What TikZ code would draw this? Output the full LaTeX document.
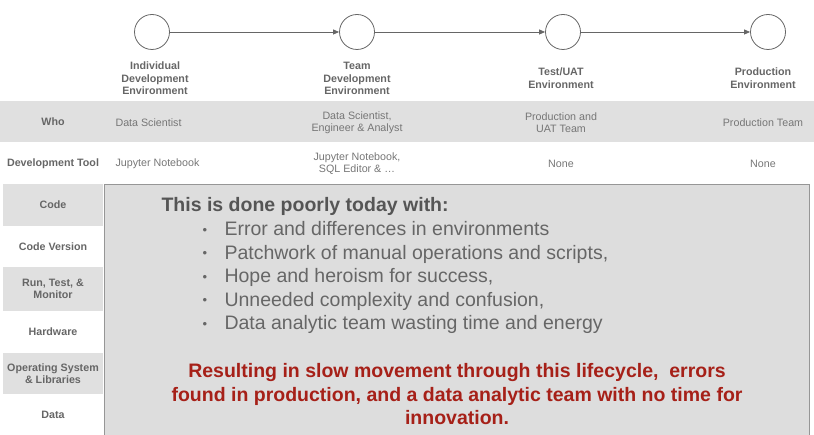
\documentclass[tikz,border=0pt]{standalone}
\usepackage{fontspec}
\setmainfont{Liberation Sans}
\usepackage{xcolor}
\usepackage{tikz}
\usetikzlibrary{positioning, arrows.meta}

\definecolor{bandgray}{RGB}{224,224,224}
\definecolor{panelgray}{RGB}{221,221,221}
\definecolor{edgegray}{RGB}{150,150,150}
\definecolor{labelgray}{RGB}{102,102,102}
\definecolor{textgray}{RGB}{118,118,118}
\definecolor{headgray}{RGB}{85,85,85}
\definecolor{berry}{RGB}{166,32,24}

\newcommand{\issuebullet}{\makebox[23pt][l]{\hspace{1pt}\raisebox{1.5pt}{\fontsize{13}{13}\selectfont•}}}

\begin{document}
\begin{tikzpicture}[
    x=1pt, y=-1pt,
    env/.style={
        circle,
        draw=labelgray,
        line width=0.8pt,
        fill=white,
        minimum size=35pt,
        inner sep=0pt
    },
    envlabel/.style={align=center, text=labelgray, font=\fontsize{10.7}{12.5}\selectfont\bfseries},
    rowcell/.style={
        align=center,
        text=labelgray,
        font=\fontsize{10.7}{12.5}\selectfont\bfseries,
        minimum width=100pt,
        minimum height=42pt,
        inner sep=0pt
    },
    cell/.style={align=center, text=textgray, font=\fontsize{10.7}{12.5}\selectfont},
    arr/.style={-{Triangle[length=6pt, width=5pt]}, draw=labelgray, line width=0.8pt},
    panel/.style={draw=edgegray, line width=0.8pt, fill=panelgray},
    issue/.style={anchor=base west, text=labelgray, font=\fontsize{19.5}{23.5}\selectfont},
    outcome/.style={align=center, text=berry, font=\fontsize{19.5}{23.5}\selectfont\bfseries}
]
\useasboundingbox (0,0) rectangle (814,435);

% bands and panel
\fill[bandgray] (0,101) rectangle (814,142);
\draw[panel] (104,184) rectangle (809,440);

% lifecycle
\node[env] (indiv) at (152,32) {};
\node[env] (team)  at (357,32) {};
\node[env] (uat)   at (563,32) {};
\node[env] (prod)  at (768,32) {};

\draw[arr] (indiv) -- (team);
\draw[arr] (team) -- (uat);
\draw[arr] (uat) -- (prod);

\node[envlabel] (indivlbl) at (155,78.5) {Individual\\Development\\Environment};
\node[envlabel] (teamlbl)  at (357,78.5) {Team\\Development\\Environment};
\node[envlabel] (uatlbl)   at (561,78)   {Test/UAT\\Environment};
\node[envlabel] (prodlbl)  at (763,78)   {Production\\Environment};

% who / tool rows
\node[rowcell] (who)  at (53,122) {Who};
\node[cell, anchor=west] (whoindiv) at (112,123)   {Data Scientist};
\node[cell] (whoteam) at (357,122.5) {Data Scientist,\\Engineer \& Analyst};
\node[cell] (whouat)  at (561,122.5) {Production and\\UAT Team};
\node[cell] (whoprod) at (763,123)   {Production Team};

\node[rowcell] (tool) at (53,164) {Development Tool};
\node[cell, anchor=west] (toolindiv) at (112,164) {Jupyter Notebook};
\node[cell] (toolteam) at (357,163.5) {Jupyter Notebook,\\SQL Editor \& …};
\node[cell] (tooluat)  at (561,164)   {None};
\node[cell] (toolprod) at (763,164)   {None};

% left column
\node[rowcell, fill=bandgray] (code)     at (53,205)   {Code};
\node[rowcell]                (version)  at (53,246.5) {Code Version};
\node[rowcell, fill=bandgray, minimum height=44pt] (run) at (53,289) {Run, Test, \&\\Monitor};
\node[rowcell]                (hardware) at (53,332)   {Hardware};
\node[rowcell, fill=bandgray, minimum height=41pt] (os) at (53,373.5) {Operating System\\\& Libraries};
\node[rowcell]                (data)     at (53,415)   {Data};

% panel text
\node[anchor=base west, text=headgray, font=\fontsize{19.5}{23.5}\selectfont\bfseries] (poorly) at (158,212) {This is done poorly today with:};
\node[issue] (issue1) at (198,236)   {\issuebullet Error and differences in environments};
\node[issue] (issue2) at (198,259.5) {\issuebullet Patchwork of manual operations and scripts,};
\node[issue] (issue3) at (198,283)   {\issuebullet Hope and heroism for success,};
\node[issue] (issue4) at (198,306.5) {\issuebullet Unneeded complexity and confusion,};
\node[issue] (issue5) at (198,330)   {\issuebullet Data analytic team wasting time and energy};

\node[outcome] (result) at (457,394.5) {Resulting in slow movement through this lifecycle,\ \ errors\\found in production, and a data analytic team with no time for\\innovation.};

\end{tikzpicture}
\end{document}
